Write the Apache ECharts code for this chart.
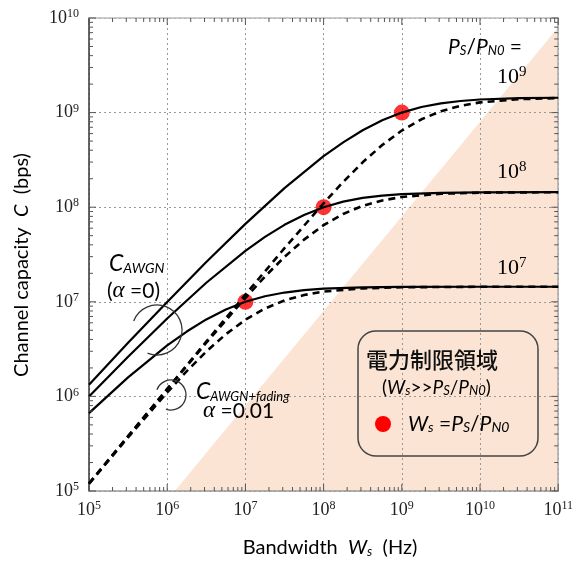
<!DOCTYPE html>
<html><head><meta charset="utf-8">
<script src="https://cdn.jsdelivr.net/npm/echarts@6/dist/echarts.min.js"></script>
<style>html,body{margin:0;padding:0;background:#fff}#c{width:576px;height:565px}</style>
</head><body><div id="c"></div>
<script>
// Bandwidth samples (Hz)
const bw7 = [1e5, 3.16e5, 1e6, 1.78e6, 3.16e6, 5.62e6, 1e7, 1.78e7, 3.16e7, 5.62e7, 1e8, 3.16e8, 1e9, 1e10, 1e11];
const bw8 = [1e5, 3.16e5, 1e6, 3.16e6, 1e7, 1.78e7, 3.16e7, 5.62e7, 1e8, 1.78e8, 3.16e8, 5.62e8, 1e9, 3.16e9, 1e10, 1e11];
const bw9 = [1e5, 3.16e5, 1e6, 3.16e6, 1e7, 3.16e7, 1e8, 1.78e8, 3.16e8, 5.62e8, 1e9, 1.78e9, 3.16e9, 5.62e9, 1e10, 3.16e10, 1e11];
// AWGN capacity (bps), solid curves
const capAwgn7 = [6.66e5, 1.59e6, 3.46e6, 4.85e6, 6.51e6, 8.29e6, 1e7, 1.145e7, 1.253e7, 1.327e7, 1.375e7, 1.42e7, 1.4355e7, 1.442e7, 1.4427e7];
const capAwgn8 = [9.97e5, 2.63e6, 6.66e6, 1.59e7, 3.46e7, 4.85e7, 6.51e7, 8.29e7, 1e8, 1.145e8, 1.253e8, 1.327e8, 1.375e8, 1.42e8, 1.4355e8, 1.442e8];
const capAwgn9 = [1.33e6, 3.68e6, 9.97e6, 2.63e7, 6.66e7, 1.59e8, 3.46e8, 4.85e8, 6.51e8, 8.29e8, 1e9, 1.145e9, 1.253e9, 1.327e9, 1.375e9, 1.42e9, 1.4355e9];
// AWGN + fading capacity (bps), dashed curves
const capFade7 = [1.19e5, 3.69e5, 1.10e6, 1.85e6, 2.98e6, 4.54e6, 6.46e6, 8.49e6, 1.034e7, 1.179e7, 1.282e7, 1.387e7, 1.425e7, 1.441e7, 1.4426e7];
const capFade8 = [1.2e5, 3.79e5, 1.19e6, 3.69e6, 1.10e7, 1.85e7, 2.98e7, 4.54e7, 6.46e7, 8.49e7, 1.034e8, 1.179e8, 1.282e8, 1.387e8, 1.425e8, 1.441e8];
const capFade9 = [1.2e5, 3.80e5, 1.2e6, 3.79e6, 1.19e7, 3.69e7, 1.10e8, 1.85e8, 2.98e8, 4.54e8, 6.46e8, 8.49e8, 1.034e9, 1.179e9, 1.282e9, 1.387e9, 1.425e9];
// Points where Ws = Ps/PN0
const dotW = [1e7, 1e8, 1e9];
const dotC = [1e7, 1e8, 1e9];
// Power-limited region boundary
const shadeW = [1.25e6, 1e11, 1e11];
const shadeC = [1e5, 8e9, 1e5];
// Axis ranges
const xMin = 1e5, xMax = 1e11, yMin = 1e5, yMax = 1e10;

const zip = (a, b) => a.map((v, i) => [v, b[i]]);
const SERIF = "'Liberation Serif','Times New Roman',serif";
const SANS = "Lato,'Liberation Sans',sans-serif";

function decLabel(v) {
  const e = Math.round(Math.log10(v));
  return '{b|10}{e|' + e + '}';
}
const labelRich = {
  b: {fontFamily: SERIF, fontSize: 18, color: '#222', lineHeight: 20},
  e: {fontFamily: SERIF, fontSize: 12, color: '#222', lineHeight: 12, verticalAlign: 'top', padding: [0, 0, 2, 0]}
};

// minor/major tick values (axis furniture)
function tickVals(lo, hi) {
  const out = [];
  for (let k = lo; k < hi; k++) for (let m = 1; m <= 9; m++) out.push([m * Math.pow(10, k), m === 1]);
  out.push([Math.pow(10, hi), true]);
  return out;
}
const xt = tickVals(5, 11), yt = tickVals(5, 10);
function tickSeries(side) {
  let data;
  if (side === 'b') data = xt.map(t => [t[0], yMin, t[1] ? 1 : 0]);
  if (side === 't') data = xt.map(t => [t[0], yMax, t[1] ? 1 : 0]);
  if (side === 'l') data = yt.map(t => [xMin, t[0], t[1] ? 1 : 0]);
  if (side === 'r') data = yt.map(t => [xMax, t[0], t[1] ? 1 : 0]);
  return {
    type: 'custom', coordinateSystem: 'cartesian2d', clip: false, silent: true, z: 5,
    encode: {x: 0, y: 1},
    data: data,
    renderItem: function (params, api) {
      const p = api.coord([api.value(0), api.value(1)]);
      const len = api.value(2) ? 7 : 4;
      let x2 = p[0], y2 = p[1];
      if (side === 'b') y2 -= len;
      if (side === 't') y2 += len;
      if (side === 'l') x2 += len;
      if (side === 'r') x2 -= len;
      return {type: 'line', shape: {x1: p[0], y1: p[1], x2: x2, y2: y2}, style: {stroke: '#555', lineWidth: 1}};
    }
  };
}

const solidStyle = {color: '#000', width: 2.2, type: 'solid', join: 'round'};
const dashStyle = {color: '#000', width: 2.6, type: [7, 5], join: 'round'};
function curve(x, y, style) {
  return {type: 'line', data: zip(x, y), showSymbol: false, symbol: 'none', smooth: false,
    lineStyle: style, z: 4, silent: true};
}

const chart = echarts.init(document.getElementById('c'), null, {renderer: 'canvas'});
const itRich = {
  n: {fontFamily: SANS, fontSize: 20, color: '#111'},
  i: {fontFamily: SANS, fontSize: 20, fontStyle: 'italic', color: '#111'},
  s: {fontFamily: SANS, fontSize: 13, fontStyle: 'italic', color: '#111', verticalAlign: 'bottom', lineHeight: 13}
};
const option = {
  animation: false,
  backgroundColor: '#fff',
  grid: {left: 89, right: 13, top: 18, bottom: 74},
  xAxis: [{
    type: 'log', logBase: 10, min: xMin, max: xMax,
    axisLine: {show: true, lineStyle: {color: '#999', width: 1.5}},
    axisTick: {show: false},
    splitLine: {show: true, lineStyle: {color: '#999', width: 1, type: [2, 3]}},
    axisLabel: {formatter: decLabel, rich: labelRich, margin: 9}
  }, {
    type: 'log', logBase: 10, min: xMin, max: xMax, position: 'top',
    axisLine: {show: true, lineStyle: {color: '#bbb', width: 1.5}},
    axisTick: {show: false}, axisLabel: {show: false}, splitLine: {show: false}
  }],
  yAxis: [{
    type: 'log', logBase: 10, min: yMin, max: yMax,
    axisLine: {show: true, lineStyle: {color: '#333', width: 1.5}},
    axisTick: {show: false},
    splitLine: {show: true, lineStyle: {color: '#999', width: 1, type: [2, 3]}},
    axisLabel: {formatter: decLabel, rich: labelRich, margin: 10}
  }, {
    type: 'log', logBase: 10, min: yMin, max: yMax, position: 'right',
    axisLine: {show: true, lineStyle: {color: '#aaa', width: 1.5}},
    axisTick: {show: false}, axisLabel: {show: false}, splitLine: {show: false}
  }],
  series: [
    {
      type: 'custom', coordinateSystem: 'cartesian2d', z: -10, silent: true, clip: true,
      encode: {x: 0, y: 1},
      data: zip(shadeW, shadeC),
      renderItem: function (params, api) {
        if (params.dataIndex !== 0) return null;
        const pts = shadeW.map((w, i) => api.coord([w, shadeC[i]]));
        return {type: 'polygon', shape: {points: pts}, style: {fill: '#FBE4D4'}};
      }
    },
    {type: 'scatter', data: zip(dotW, dotC), symbol: 'circle', symbolSize: 16,
      itemStyle: {color: '#FF0000'}, z: 3, silent: true},
    curve(bw7, capAwgn7, solidStyle),
    curve(bw8, capAwgn8, solidStyle),
    curve(bw9, capAwgn9, solidStyle),
    curve(bw7, capFade7, dashStyle),
    curve(bw8, capFade8, dashStyle),
    curve(bw9, capFade9, dashStyle),
    tickSeries('b'), tickSeries('t'), tickSeries('l'), tickSeries('r')
  ],
  graphic: [
    {type: 'text', x: 22, y: 265, rotation: Math.PI / 2, z: 10,
      style: {text: '{n|Channel capacity  }{i|C}{n|  (bps)}', rich: itRich, textAlign: 'center', textVerticalAlign: 'middle'}},
    {type: 'text', x: 330, y: 548, z: 10,
      style: {text: '{n|Bandwidth  }{i|W}{s|s}{n|  (Hz)}', rich: itRich,
        textAlign: 'center', textVerticalAlign: 'middle'}},
    {type: 'text', x: 448, y: 47, z: 10,
      style: {text: '{i|P}{s|S}{n|/}{i|P}{s|N0}{n| =}', textAlign: 'left', textVerticalAlign: 'middle',
        rich: {n: {fontFamily: SANS, fontSize: 21, color: '#111'}, i: {fontFamily: SANS, fontSize: 21, fontStyle: 'italic', color: '#111'},
          s: {fontFamily: SANS, fontSize: 13, fontStyle: 'italic', color: '#111', verticalAlign: 'bottom', lineHeight: 13}}}},
    {type: 'text', x: 497, y: 77, z: 10, style: {text: '{b|10}{e|9}', textAlign: 'left', textVerticalAlign: 'middle',
      rich: {b: {fontFamily: SERIF, fontSize: 22, color: '#111', lineHeight: 24}, e: {fontFamily: SERIF, fontSize: 15, color: '#111', verticalAlign: 'top', lineHeight: 15}}}},
    {type: 'text', x: 497, y: 172, z: 10, style: {text: '{b|10}{e|8}', textAlign: 'left', textVerticalAlign: 'middle',
      rich: {b: {fontFamily: SERIF, fontSize: 22, color: '#111', lineHeight: 24}, e: {fontFamily: SERIF, fontSize: 15, color: '#111', verticalAlign: 'top', lineHeight: 15}}}},
    {type: 'text', x: 497, y: 268, z: 10, style: {text: '{b|10}{e|7}', textAlign: 'left', textVerticalAlign: 'middle',
      rich: {b: {fontFamily: SERIF, fontSize: 22, color: '#111', lineHeight: 24}, e: {fontFamily: SERIF, fontSize: 15, color: '#111', verticalAlign: 'top', lineHeight: 15}}}},
    {type: 'text', x: 109, y: 264, z: 10, style: {text: '{i|C}{s|AWGN}', textAlign: 'left', textVerticalAlign: 'middle',
      rich: {i: {fontFamily: SANS, fontSize: 23, fontStyle: 'italic', color: '#222'}, s: {fontFamily: SANS, fontSize: 14, fontStyle: 'italic', color: '#222', verticalAlign: 'bottom', lineHeight: 14}}}},
    {type: 'text', x: 107, y: 291, z: 10, style: {text: '{n|(}{a|α}{n| =0)}', textAlign: 'left', textVerticalAlign: 'middle',
      rich: {n: {fontFamily: SANS, fontSize: 21, color: '#222'}, a: {fontFamily: SERIF, fontSize: 23, fontStyle: 'italic', color: '#222'}}}},
    {type: 'text', x: 196, y: 392, z: 10, style: {text: '{i|C}{s|AWGN+fading}', textAlign: 'left', textVerticalAlign: 'middle',
      rich: {i: {fontFamily: SANS, fontSize: 23, fontStyle: 'italic', color: '#222'}, s: {fontFamily: SANS, fontSize: 13, fontStyle: 'italic', color: '#222', verticalAlign: 'bottom', lineHeight: 13}}}},
    {type: 'text', x: 203, y: 411, z: 10, style: {text: '{a|α}{n| =0.01}', textAlign: 'left', textVerticalAlign: 'middle',
      rich: {n: {fontFamily: SANS, fontSize: 21, color: '#222'}, a: {fontFamily: SERIF, fontSize: 23, fontStyle: 'italic', color: '#222'}}}},
    {type: 'arc', z: 10, shape: {cx: 157, cy: 330, r: 25, startAngle: 3.51, endAngle: 8.24, clockwise: true},
      style: {stroke: '#333', lineWidth: 1.3, fill: null}},
    {type: 'arc', z: 10, shape: {cx: 171, cy: 395, r: 15, startAngle: 3.5, endAngle: 8.2, clockwise: true},
      style: {stroke: '#333', lineWidth: 1.3, fill: null}},
    {type: 'rect', z: 10, shape: {x: 358, y: 331, width: 180, height: 125, r: 18},
      style: {stroke: '#444', lineWidth: 1.5, fill: null}},
    {type: 'text', x: 366, y: 360, z: 11, style: {text: '電力制限領域', textAlign: 'left', textVerticalAlign: 'middle',
      font: "500 22px 'Noto Sans CJK JP'", fill: '#111'}},
    {type: 'text', x: 382, y: 388, z: 11, style: {text: '{n|(}{i|W}{s|s}{n|>>}{i|P}{s|S}{n|/}{i|P}{s|N0}{n|)}', textAlign: 'left', textVerticalAlign: 'middle',
      rich: {n: {fontFamily: SANS, fontSize: 19, color: '#111'}, i: {fontFamily: SANS, fontSize: 19, fontStyle: 'italic', color: '#111'},
        s: {fontFamily: SANS, fontSize: 13, fontStyle: 'italic', color: '#111', verticalAlign: 'bottom', lineHeight: 13}}}},
    {type: 'circle', z: 11, shape: {cx: 383, cy: 424, r: 8}, style: {fill: '#FF0000'}},
    {type: 'text', x: 408, y: 424, z: 11, style: {text: '{i|W}{s|s}{n| =}{i|P}{s|S}{n|/}{i|P}{s|N0}', textAlign: 'left', textVerticalAlign: 'middle',
      rich: {n: {fontFamily: SANS, fontSize: 21, color: '#111'}, i: {fontFamily: SANS, fontSize: 21, fontStyle: 'italic', color: '#111'},
        s: {fontFamily: SANS, fontSize: 14, fontStyle: 'italic', color: '#111', verticalAlign: 'bottom', lineHeight: 14}}}}
  ]
};
chart.setOption(option);
</script>
</body></html>
